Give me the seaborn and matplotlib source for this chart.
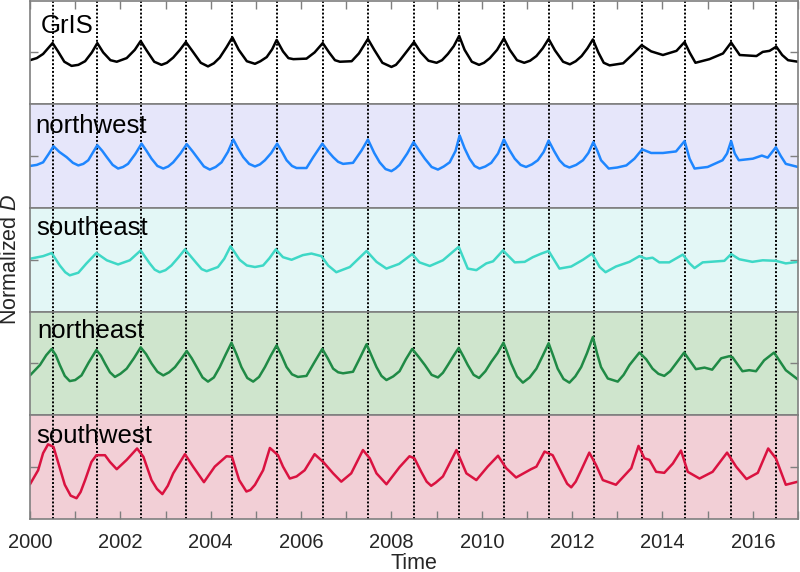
import matplotlib
matplotlib.use("Agg")
import matplotlib.pyplot as plt
from matplotlib import font_manager
import seaborn as sns
import pandas as pd

# ---------------- data ----------------
regions = ["GrIS", "northwest", "southeast", "northeast", "southwest"]

gris_t = [2000.00, 2000.15, 2000.29, 2000.42, 2000.50, 2000.62, 2000.76, 2000.92, 2001.07, 2001.22,
          2001.37, 2001.49, 2001.62, 2001.78, 2001.92, 2002.14, 2002.32, 2002.45, 2002.58, 2002.75,
          2002.91, 2003.03, 2003.17, 2003.32, 2003.45, 2003.60, 2003.78, 2003.94, 2004.07, 2004.20,
          2004.35, 2004.48, 2004.62, 2004.80, 2004.98, 2005.10, 2005.24, 2005.36, 2005.46, 2005.60,
          2005.72, 2005.83, 2006.12, 2006.30, 2006.48, 2006.62, 2006.75, 2006.86, 2007.12, 2007.28,
          2007.48, 2007.62, 2007.80, 2008.00, 2008.10, 2008.19, 2008.35, 2008.50, 2008.65, 2008.82,
          2009.00, 2009.12, 2009.25, 2009.38, 2009.50, 2009.62, 2009.78, 2009.94, 2010.05, 2010.18,
          2010.34, 2010.49, 2010.62, 2010.78, 2010.94, 2011.07, 2011.21, 2011.35, 2011.48, 2011.62,
          2011.80, 2011.95, 2012.08, 2012.21, 2012.34, 2012.46, 2012.58, 2012.70, 2012.83, 2013.13,
          2013.35, 2013.54, 2013.75, 2014.01, 2014.31, 2014.49, 2014.60, 2014.73, 2015.04, 2015.34,
          2015.52, 2015.71, 2016.08, 2016.22, 2016.37, 2016.52, 2016.65, 2016.78, 2017.00]
gris_v = [-0.15, -0.11, -0.03, 0.10, 0.18, 0.02, -0.18, -0.26, -0.24, -0.17,
          0.00, 0.18, 0.00, -0.15, -0.18, -0.11, 0.05, 0.22, 0.04, -0.18,
          -0.24, -0.20, -0.10, 0.05, 0.20, 0.02, -0.20, -0.27, -0.21, -0.10,
          0.10, 0.29, 0.05, -0.17, -0.22, -0.17, -0.09, 0.06, 0.24, 0.02,
          -0.11, -0.13, -0.12, 0.00, 0.18, 0.00, -0.15, -0.18, -0.17, -0.02,
          0.26, 0.05, -0.20, -0.28, -0.24, -0.15, 0.03, 0.20, 0.00, -0.16,
          -0.20, -0.15, -0.03, 0.12, 0.32, 0.05, -0.18, -0.24, -0.20, -0.11,
          0.05, 0.27, 0.05, -0.15, -0.20, -0.16, -0.07, 0.08, 0.26, 0.04,
          -0.18, -0.23, -0.17, -0.07, 0.08, 0.25, 0.00, -0.20, -0.25, -0.21,
          -0.03, 0.14, 0.02, -0.05, 0.03, 0.20, 0.00, -0.20, -0.13, -0.02,
          0.19, -0.05, -0.07, 0.01, 0.03, 0.11, -0.05, -0.15, -0.18]

nw_t = [2000.00, 2000.15, 2000.29, 2000.42, 2000.52, 2000.65, 2000.81, 2000.95, 2001.07, 2001.18,
        2001.29, 2001.40, 2001.49, 2001.60, 2001.70, 2001.83, 2001.95, 2002.06, 2002.17, 2002.33,
        2002.47, 2002.58, 2002.69, 2002.82, 2002.95, 2003.06, 2003.17, 2003.33, 2003.47, 2003.60,
        2003.72, 2003.85, 2003.98, 2004.11, 2004.24, 2004.38, 2004.50, 2004.61, 2004.72, 2004.85,
        2004.98, 2005.09, 2005.20, 2005.34, 2005.47, 2005.58, 2005.68, 2005.80, 2005.90, 2006.12,
        2006.27, 2006.47, 2006.60, 2006.71, 2006.82, 2006.93, 2007.15, 2007.34, 2007.48, 2007.62,
        2007.74, 2007.87, 2008.00, 2008.09, 2008.18, 2008.35, 2008.49, 2008.62, 2008.74, 2008.89,
        2009.03, 2009.16, 2009.29, 2009.42, 2009.51, 2009.62, 2009.73, 2009.84, 2009.95, 2010.08,
        2010.21, 2010.36, 2010.49, 2010.61, 2010.73, 2010.86, 2010.98, 2011.11, 2011.24, 2011.37,
        2011.48, 2011.60, 2011.72, 2011.83, 2011.94, 2012.09, 2012.24, 2012.36, 2012.47, 2012.56,
        2012.64, 2012.81, 2013.00, 2013.20, 2013.38, 2013.55, 2013.75, 2014.01, 2014.30, 2014.49,
        2014.60, 2014.71, 2015.00, 2015.33, 2015.43, 2015.52, 2015.60, 2015.69, 2016.00, 2016.20,
        2016.33, 2016.51, 2016.62, 2016.73, 2017.00]
nw_v = [-0.19, -0.17, -0.12, 0.05, 0.19, 0.08, -0.02, -0.13, -0.18, -0.15,
        -0.08, 0.08, 0.21, 0.10, -0.02, -0.17, -0.24, -0.21, -0.15, 0.04,
        0.24, 0.10, -0.05, -0.19, -0.24, -0.20, -0.12, 0.05, 0.23, 0.09,
        -0.05, -0.20, -0.26, -0.21, -0.12, 0.08, 0.32, 0.14, -0.02, -0.15,
        -0.20, -0.16, -0.08, 0.06, 0.24, 0.08, -0.08, -0.19, -0.23, -0.23,
        -0.02, 0.24, 0.09, -0.02, -0.11, -0.15, -0.13, 0.11, 0.32, 0.06,
        -0.12, -0.25, -0.29, -0.24, -0.17, 0.05, 0.27, 0.10, -0.05, -0.21,
        -0.26, -0.20, -0.12, 0.10, 0.40, 0.15, -0.05, -0.19, -0.24, -0.20,
        -0.13, 0.05, 0.32, 0.12, -0.05, -0.17, -0.21, -0.16, -0.08, 0.08,
        0.30, 0.10, -0.08, -0.18, -0.22, -0.17, -0.08, 0.06, 0.27, 0.10,
        -0.08, -0.24, -0.22, -0.18, -0.05, 0.13, 0.06, 0.06, 0.09, 0.29,
        -0.05, -0.24, -0.21, -0.08, 0.05, 0.29, 0.05, -0.08, -0.05, 0.01,
        -0.03, 0.17, 0.00, -0.15, -0.21]

se_t = [2000.00, 2000.29, 2000.48, 2000.66, 2000.78, 2000.88, 2001.07, 2001.25, 2001.47, 2001.70,
        2001.95, 2002.21, 2002.45, 2002.65, 2002.76, 2002.87, 2003.00, 2003.13, 2003.28, 2003.43,
        2003.69, 2003.80, 2003.91, 2004.16, 2004.30, 2004.44, 2004.64, 2004.80, 2004.98, 2005.16,
        2005.30, 2005.44, 2005.60, 2005.79, 2006.04, 2006.23, 2006.45, 2006.60, 2006.78, 2007.08,
        2007.45, 2007.67, 2007.89, 2008.17, 2008.46, 2008.62, 2008.85, 2009.14, 2009.49, 2009.69,
        2009.88, 2010.10, 2010.25, 2010.47, 2010.73, 2010.95, 2011.13, 2011.32, 2011.48, 2011.72,
        2011.98, 2012.24, 2012.44, 2012.61, 2012.74, 2012.97, 2013.27, 2013.49, 2013.64, 2013.78,
        2013.93, 2014.15, 2014.45, 2014.60, 2014.71, 2014.89, 2015.37, 2015.52, 2015.70, 2015.99,
        2016.22, 2016.51, 2016.73, 2017.00]
se_v = [0.02, 0.07, 0.13, -0.11, -0.24, -0.30, -0.25, -0.07, 0.13, -0.01,
        -0.09, -0.01, 0.18, -0.07, -0.19, -0.24, -0.20, -0.11, 0.04, 0.20,
        -0.07, -0.18, -0.22, -0.14, 0.02, 0.26, 0.00, -0.11, -0.14, -0.11,
        0.03, 0.20, 0.05, 0.00, 0.09, 0.12, 0.07, -0.11, -0.24, -0.14,
        0.17, -0.04, -0.17, -0.08, 0.11, -0.05, -0.12, -0.01, 0.25, -0.17,
        -0.20, -0.07, -0.03, 0.18, -0.05, -0.04, 0.05, 0.12, 0.17, -0.17,
        -0.13, 0.00, 0.12, -0.14, -0.24, -0.13, -0.04, 0.07, 0.02, 0.04,
        -0.05, -0.05, 0.10, -0.07, -0.16, -0.05, -0.02, 0.11, 0.01, -0.04,
        -0.01, -0.02, -0.07, -0.04]

ne_t = [2000.00, 2000.22, 2000.36, 2000.48, 2000.57, 2000.66, 2000.77, 2000.88, 2001.00, 2001.14,
        2001.30, 2001.47, 2001.57, 2001.66, 2001.77, 2001.88, 2002.00, 2002.14, 2002.30, 2002.45,
        2002.57, 2002.69, 2002.82, 2002.95, 2003.08, 2003.21, 2003.34, 2003.47, 2003.58, 2003.69,
        2003.82, 2003.94, 2004.07, 2004.20, 2004.33, 2004.46, 2004.57, 2004.68, 2004.81, 2004.94,
        2005.07, 2005.20, 2005.33, 2005.46, 2005.57, 2005.68, 2005.80, 2005.93, 2006.12, 2006.30,
        2006.47, 2006.59, 2006.71, 2006.82, 2006.93, 2007.15, 2007.30, 2007.45, 2007.56, 2007.67,
        2007.78, 2007.89, 2008.04, 2008.18, 2008.32, 2008.46, 2008.60, 2008.74, 2008.89, 2009.03,
        2009.14, 2009.25, 2009.37, 2009.49, 2009.59, 2009.69, 2009.82, 2009.94, 2010.08, 2010.21,
        2010.35, 2010.48, 2010.56, 2010.65, 2010.78, 2010.91, 2011.06, 2011.21, 2011.35, 2011.48,
        2011.58, 2011.68, 2011.81, 2011.94, 2012.07, 2012.20, 2012.33, 2012.46, 2012.55, 2012.64,
        2012.79, 2013.01, 2013.14, 2013.27, 2013.49, 2013.64, 2013.78, 2013.91, 2014.04, 2014.17,
        2014.30, 2014.48, 2014.74, 2014.93, 2015.10, 2015.30, 2015.48, 2015.55, 2015.77, 2015.92,
        2016.07, 2016.25, 2016.47, 2016.73, 2017.00]
ne_v = [-0.23, -0.03, 0.16, 0.28, 0.16, -0.03, -0.24, -0.34, -0.32, -0.23,
        0.02, 0.26, 0.15, 0.00, -0.17, -0.26, -0.20, -0.10, 0.10, 0.31,
        0.18, 0.00, -0.16, -0.23, -0.17, -0.07, 0.08, 0.24, 0.10, -0.07,
        -0.27, -0.35, -0.27, -0.07, 0.17, 0.40, 0.18, -0.07, -0.28, -0.35,
        -0.26, -0.07, 0.15, 0.35, 0.15, -0.07, -0.21, -0.26, -0.24, 0.03,
        0.28, 0.10, -0.10, -0.17, -0.19, -0.16, 0.10, 0.37, 0.15, -0.07,
        -0.24, -0.32, -0.25, -0.15, 0.08, 0.28, 0.13, -0.03, -0.22, -0.27,
        -0.18, -0.03, 0.14, 0.30, 0.14, -0.03, -0.22, -0.28, -0.15, 0.03,
        0.20, 0.40, 0.22, 0.00, -0.25, -0.37, -0.27, -0.10, 0.15, 0.39,
        0.15, -0.10, -0.30, -0.37, -0.25, -0.07, 0.20, 0.51, 0.20, -0.07,
        -0.29, -0.35, -0.22, -0.03, 0.21, 0.08, -0.10, -0.20, -0.24, -0.15,
        0.00, 0.21, -0.11, -0.08, -0.12, 0.10, 0.14, 0.12, -0.15, -0.13,
        -0.15, 0.06, 0.21, -0.13, -0.31]

sw_t = [2000.00, 2000.18, 2000.29, 2000.40, 2000.52, 2000.63, 2000.77, 2000.90, 2001.03, 2001.12,
        2001.22, 2001.36, 2001.47, 2001.66, 2001.77, 2001.92, 2002.14, 2002.37, 2002.51, 2002.69,
        2002.81, 2002.93, 2003.05, 2003.17, 2003.43, 2003.61, 2003.85, 2004.09, 2004.35, 2004.47,
        2004.63, 2004.79, 2004.88, 2004.98, 2005.16, 2005.31, 2005.49, 2005.60, 2005.75, 2005.90,
        2006.08, 2006.30, 2006.49, 2006.71, 2006.89, 2007.11, 2007.37, 2007.52, 2007.67, 2007.89,
        2008.18, 2008.40, 2008.51, 2008.66, 2008.78, 2008.88, 2008.98, 2009.14, 2009.44, 2009.66,
        2009.88, 2010.13, 2010.36, 2010.54, 2010.76, 2011.09, 2011.21, 2011.39, 2011.57, 2011.79,
        2011.89, 2011.98, 2012.08, 2012.20, 2012.38, 2012.53, 2012.68, 2012.97, 2013.31, 2013.47,
        2013.60, 2013.71, 2013.86, 2014.04, 2014.23, 2014.41, 2014.56, 2014.82, 2015.11, 2015.43,
        2015.63, 2015.86, 2016.11, 2016.34, 2016.51, 2016.73, 2017.00]
sw_v = [-0.33, -0.06, 0.27, 0.44, 0.39, 0.07, -0.34, -0.55, -0.60, -0.48,
        -0.25, 0.10, 0.23, 0.23, 0.10, -0.04, 0.14, 0.36, 0.20, -0.25,
        -0.42, -0.52, -0.36, -0.12, 0.25, 0.01, -0.29, 0.01, 0.21, 0.20,
        -0.25, -0.47, -0.44, -0.34, -0.06, 0.37, 0.23, 0.01, -0.22, -0.18,
        -0.06, 0.25, 0.10, -0.12, -0.28, -0.12, 0.33, 0.17, -0.12, -0.33,
        0.00, 0.21, 0.17, -0.09, -0.28, -0.36, -0.30, -0.18, 0.33, -0.12,
        -0.25, 0.01, 0.22, -0.02, -0.20, -0.04, 0.01, 0.30, 0.23, -0.15,
        -0.32, -0.39, -0.28, -0.06, 0.28, 0.04, -0.25, -0.34, -0.02, 0.41,
        0.17, 0.14, -0.09, -0.11, 0.07, 0.32, -0.09, -0.22, -0.09, 0.28,
        0.01, -0.23, -0.11, 0.36, 0.17, -0.34, -0.28]

peak_years = [2000.50, 2001.49, 2002.45, 2003.45, 2004.48, 2005.46, 2006.48, 2007.48, 2008.50,
              2009.50, 2010.49, 2011.48, 2012.48, 2013.54, 2014.49, 2015.52, 2016.52]

year_ticks = list(range(2000, 2018))
year_labels = [str(y) if y % 2 == 0 else "" for y in year_ticks]

# ---------------- styling ----------------
line_colors = ["#000000", "#1E86FF", "#3ED8C6", "#1F8A45", "#DA1240"]
bg_colors = ["#FFFFFF", "#E6E6FA", "#E3F7F6", "#CFE5CD", "#F2CFD6"]
label_pos = [(0.014, 0.69), (0.007, 0.725), (0.008, 0.735), (0.009, 0.75), (0.008, 0.73)]

series_t = [gris_t, nw_t, se_t, ne_t, sw_t]
series_v = [gris_v, nw_v, se_v, ne_v, sw_v]

frames = []
for name, t, v in zip(regions, series_t, series_v):
    frames.append(pd.DataFrame({"time": t, "D": v, "region": name}))
df = pd.concat(frames, ignore_index=True)

sns.set_theme(style="white")
fam = "Liberation Sans"
try:
    font_manager.findfont(fam, fallback_to_default=False)
except Exception:
    fam = "DejaVu Sans"
plt.rcParams["font.family"] = [fam, "DejaVu Sans"]
plt.rcParams["font.sans-serif"] = [fam, "DejaVu Sans"]
plt.rcParams["mathtext.fontset"] = "custom"
plt.rcParams["mathtext.it"] = fam + ":italic"
plt.rcParams["mathtext.rm"] = fam

fig, axes = plt.subplots(5, 1, figsize=(8, 5.72), dpi=100, sharex=True)
fig.subplots_adjust(left=0.0375, right=0.9975, top=0.999, bottom=0.0927, hspace=0)

spine_col = "#7f7f7f"
for i, (ax, name) in enumerate(zip(axes, regions)):
    ax.set_facecolor(bg_colors[i])
    sub = df[df["region"] == name]
    sns.lineplot(data=sub, x="time", y="D", ax=ax, color=line_colors[i],
                 linewidth=1.8, estimator=None, sort=False, legend=False)
    for line in ax.get_lines():
        line.set_solid_joinstyle("round")
    for py in peak_years:
        ax.axvline(py, color="black", linestyle=(0, (1, 1)), linewidth=1.4, zorder=1)
    ax.set_xlim(2000, 2017)
    ax.set_ylim(-1, 1)
    ax.set_yticks([0])
    ax.set_yticklabels([])
    ax.set_ylabel("")
    ax.set_xlabel("")
    ax.text(label_pos[i][0], label_pos[i][1], name, transform=ax.transAxes,
            fontsize=18.5, va="baseline", ha="left", color="black", family=fam)
    for s in ax.spines.values():
        s.set_color(spine_col)
        s.set_linewidth(1.2)
    ax.tick_params(axis="y", direction="in", length=6, color=spine_col,
                   left=True, right=True, width=1)
    if i == 0:
        ax.tick_params(axis="x", direction="in", length=6, color=spine_col,
                       top=True, bottom=False, width=1)
    elif i == 4:
        ax.tick_params(axis="x", direction="in", length=6, color=spine_col,
                       top=False, bottom=True, width=1, labelsize=14.5, pad=10)
    else:
        ax.tick_params(axis="x", top=False, bottom=False)

axes[-1].set_xticks(year_ticks)
axes[-1].set_xticklabels(year_labels, family=fam)

fig.text(0.5175, 0.006, "Time", fontsize=15.5, va="baseline", ha="center", family=fam)
fig.text(0.013, 0.547, r"Normalized $\mathit{D}$", rotation=90, fontsize=15.5,
         va="center", ha="center", family=fam)

fig.savefig("out.png", dpi=100)
